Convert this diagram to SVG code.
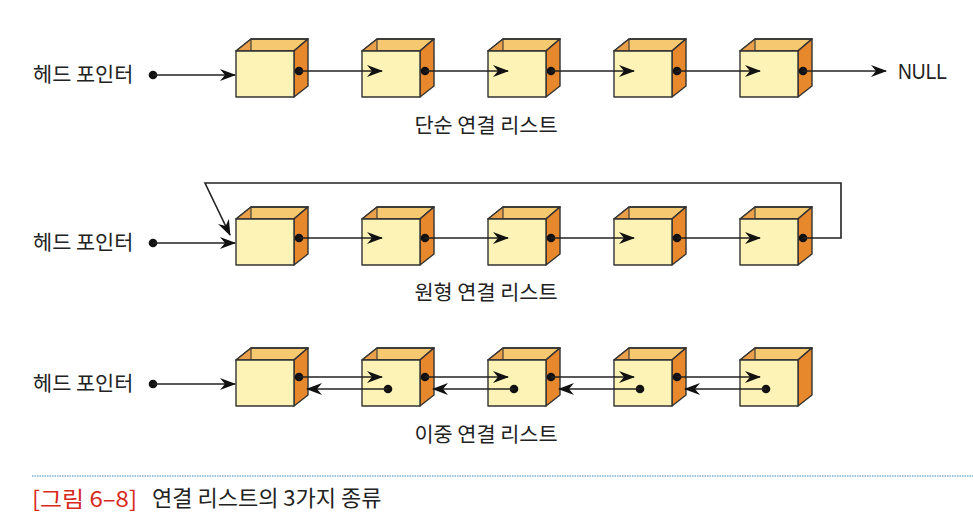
<svg xmlns="http://www.w3.org/2000/svg" xmlns:xlink="http://www.w3.org/1999/xlink" width="973" height="525" viewBox="0 0 973 525">
<defs>
<style>
.lbl{font-family:"Noto Sans CJK KR","Noto Sans",sans-serif;font-size:20.8px;fill:#222}
.cap{font-family:"Noto Sans CJK KR","Noto Sans",sans-serif;font-size:22px}
.ln{stroke:#222;stroke-width:1.6;fill:none}
.ar{stroke:#222;stroke-width:1.6;fill:none;marker-end:url(#ah)}
.dot{fill:#111}
.edge{stroke:#333;stroke-width:1.4;stroke-linejoin:round}
</style>
<marker id="ah" viewBox="0 0 16 12" refX="15" refY="6" markerWidth="16" markerHeight="12" markerUnits="userSpaceOnUse" orient="auto">
<path d="M0,0 L16,6 L0,12 L5,6 z" fill="#111"/>
</marker>
<g id="cube">
<polygon class="edge" points="0,0 15,-12 72,-12 58,0" fill="#f6c870"/>
<polygon points="0,0 15,-12 15,0" fill="#eaa04a"/>
<line x1="15" y1="-12" x2="15" y2="0" stroke="#333" stroke-width="1.1"/>
<polygon class="edge" points="0,0 15,-12 72,-12 58,0" fill="none"/>
<polygon class="edge" points="58,0 72,-12 72,35 58,46" fill="#e8882c"/>
<rect class="edge" x="0" y="0" width="58" height="46" fill="#fdf3b6"/>
</g>
</defs>
<rect width="973" height="525" fill="#ffffff"/>

<g id="row1">
<text class="lbl" x="33" y="82">헤드 포인터</text>
<use id="n1a" xlink:href="#cube" x="236" y="51"/>
<use id="n1b" xlink:href="#cube" x="362" y="51"/>
<use id="n1c" xlink:href="#cube" x="488" y="51"/>
<use id="n1d" xlink:href="#cube" x="614" y="51"/>
<use id="n1e" xlink:href="#cube" x="740" y="51"/>
<text class="lbl" x="486" y="133" text-anchor="middle">단순 연결 리스트</text>
<text x="898" y="79" font-family="Liberation Sans,Arial,sans-serif" font-size="22" textLength="49" lengthAdjust="spacingAndGlyphs" fill="#222">NULL</text>
</g>

<g id="row2">
<text class="lbl" x="33" y="250">헤드 포인터</text>
<use id="n2a" xlink:href="#cube" x="236" y="219"/>
<use id="n2b" xlink:href="#cube" x="362" y="219"/>
<use id="n2c" xlink:href="#cube" x="488" y="219"/>
<use id="n2d" xlink:href="#cube" x="614" y="219"/>
<use id="n2e" xlink:href="#cube" x="740" y="219"/>
<text class="lbl" x="486" y="300" text-anchor="middle">원형 연결 리스트</text>
</g>

<g id="row3">
<text class="lbl" x="33" y="391">헤드 포인터</text>
<use id="n3a" xlink:href="#cube" x="236" y="360"/>
<use id="n3b" xlink:href="#cube" x="362" y="360"/>
<use id="n3c" xlink:href="#cube" x="488" y="360"/>
<use id="n3d" xlink:href="#cube" x="614" y="360"/>
<use id="n3e" xlink:href="#cube" x="740" y="360"/>
<text class="lbl" x="486" y="442" text-anchor="middle">이중 연결 리스트</text>
</g>

<g id="connectors">
<!-- row 1 -->
<circle class="dot" cx="153" cy="75" r="4.3"/>
<line class="ar" x1="153" y1="75" x2="235" y2="75"/>
<circle class="dot" cx="299" cy="71" r="4.3"/>
<line class="ar" x1="299" y1="71" x2="382" y2="71"/>
<circle class="dot" cx="425" cy="71" r="4.3"/>
<line class="ar" x1="425" y1="71" x2="508" y2="71"/>
<circle class="dot" cx="551" cy="71" r="4.3"/>
<line class="ar" x1="551" y1="71" x2="634" y2="71"/>
<circle class="dot" cx="677" cy="71" r="4.3"/>
<line class="ar" x1="677" y1="71" x2="760" y2="71"/>
<circle class="dot" cx="803" cy="71" r="4.3"/>
<line class="ar" x1="803" y1="71" x2="886" y2="71"/>
<!-- row 2 -->
<circle class="dot" cx="153" cy="243" r="4.3"/>
<line class="ar" x1="153" y1="243" x2="235" y2="243"/>
<circle class="dot" cx="299" cy="238" r="4.3"/>
<line class="ar" x1="299" y1="238" x2="382" y2="238"/>
<circle class="dot" cx="425" cy="238" r="4.3"/>
<line class="ar" x1="425" y1="238" x2="508" y2="238"/>
<circle class="dot" cx="551" cy="238" r="4.3"/>
<line class="ar" x1="551" y1="238" x2="634" y2="238"/>
<circle class="dot" cx="677" cy="238" r="4.3"/>
<line class="ar" x1="677" y1="238" x2="760" y2="238"/>
<circle class="dot" cx="803" cy="238" r="4.3"/>
<path class="ar" d="M803,238 H841 V183 H205 L230,235"/>
<!-- row 3 -->
<circle class="dot" cx="153" cy="384" r="4.3"/>
<line class="ar" x1="153" y1="384" x2="235" y2="384"/>
<circle class="dot" cx="299" cy="377" r="4.3"/>
<line class="ar" x1="299" y1="377" x2="382" y2="377"/>
<circle class="dot" cx="425" cy="377" r="4.3"/>
<line class="ar" x1="425" y1="377" x2="508" y2="377"/>
<circle class="dot" cx="551" cy="377" r="4.3"/>
<line class="ar" x1="551" y1="377" x2="634" y2="377"/>
<circle class="dot" cx="677" cy="377" r="4.3"/>
<line class="ar" x1="677" y1="377" x2="760" y2="377"/>
<circle class="dot" cx="388" cy="389" r="4.3"/>
<line class="ar" x1="388" y1="389" x2="307" y2="389"/>
<circle class="dot" cx="514" cy="389" r="4.3"/>
<line class="ar" x1="514" y1="389" x2="433" y2="389"/>
<circle class="dot" cx="640" cy="389" r="4.3"/>
<line class="ar" x1="640" y1="389" x2="559" y2="389"/>
<circle class="dot" cx="766" cy="389" r="4.3"/>
<line class="ar" x1="766" y1="389" x2="685" y2="389"/>
</g>

<g id="caption">
<line x1="32" y1="476" x2="973" y2="476" stroke="#3a8cc4" stroke-width="1.2" stroke-dasharray="1.5,1"/>
<text class="cap" x="32" y="507" fill="#d8291d" font-size="24" textLength="105" lengthAdjust="spacingAndGlyphs">[그림 6–8]</text>
<text class="cap" x="152" y="506" fill="#222">연결 리스트의 3가지 종류</text>
</g>
</svg>
